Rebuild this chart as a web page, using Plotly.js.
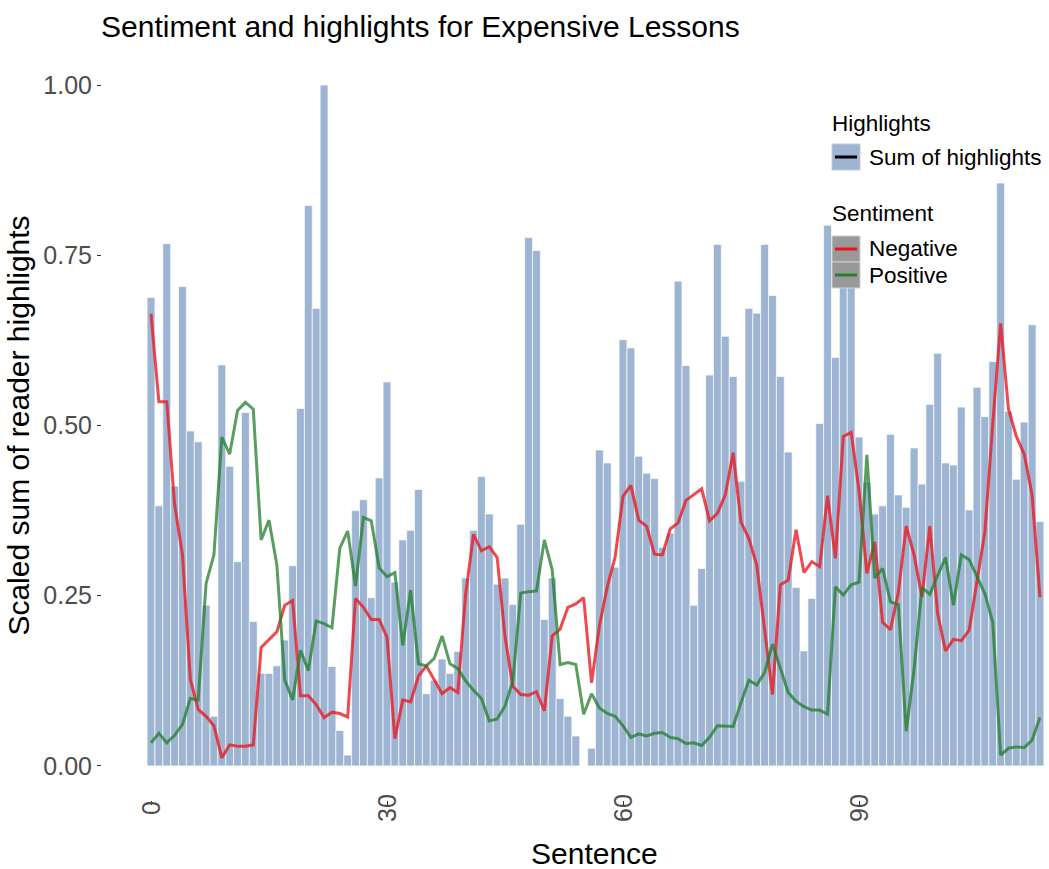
<!DOCTYPE html>
<html>
<head>
<meta charset="utf-8">
<script src="https://cdn.plot.ly/plotly-3.0.1.min.js"></script>
<style>html,body{margin:0;padding:0;background:#fff;}#chart{width:1049px;height:869px;}</style>
</head>
<body>
<div id="chart"></div>
<script>
// ---- data ----
const sentences = Array.from({length: 114}, (_, i) => i);

const highlights = [
  0.688,0.382,0.767,0.411,0.704,0.492,0.476,0.236,0.073,0.589,
  0.440,0.300,0.519,0.212,0.136,0.136,0.147,0.185,0.294,0.525,
  0.823,0.672,1.000,0.146,0.052,0.016,0.375,0.391,0.247,0.423,
  0.564,0.270,0.332,0.346,0.406,0.106,0.126,0.157,0.136,0.168,
  0.276,0.346,0.425,0.370,0.267,0.276,0.237,0.355,0.776,0.757,
  0.215,0.276,0.099,0.073,0.044,0.000,0.026,0.464,0.445,0.292,
  0.626,0.614,0.455,0.430,0.422,0.321,0.342,0.712,0.588,0.236,
  0.290,0.574,0.766,0.631,0.572,0.418,0.672,0.665,0.766,0.691,
  0.572,0.461,0.262,0.169,0.246,0.503,0.794,0.600,0.740,0.750,
  0.483,0.417,0.370,0.382,0.487,0.398,0.380,0.467,0.414,0.531,
  0.606,0.445,0.442,0.527,0.376,0.556,0.513,0.594,0.856,0.521,
  0.421,0.505,0.648,0.359
];

const negative = [
  0.664,0.535,0.535,0.384,0.310,0.127,0.083,0.073,0.059,0.012,
  0.031,0.029,0.029,0.031,0.174,0.186,0.197,0.236,0.243,0.103,
  0.103,0.090,0.071,0.079,0.077,0.072,0.246,0.233,0.215,0.215,
  0.189,0.040,0.097,0.094,0.132,0.147,0.127,0.106,0.115,0.108,
  0.253,0.340,0.316,0.322,0.306,0.190,0.117,0.105,0.104,0.109,
  0.081,0.191,0.201,0.233,0.238,0.247,0.122,0.206,0.263,0.307,
  0.396,0.412,0.361,0.352,0.311,0.310,0.348,0.357,0.390,0.398,
  0.407,0.360,0.371,0.398,0.460,0.358,0.334,0.295,0.201,0.105,
  0.266,0.273,0.347,0.284,0.300,0.293,0.397,0.305,0.484,0.490,
  0.404,0.283,0.329,0.211,0.200,0.255,0.352,0.310,0.248,0.352,
  0.223,0.169,0.186,0.184,0.199,0.270,0.344,0.502,0.650,0.524,
  0.484,0.458,0.398,0.248
];

const positive = [
  0.034,0.048,0.034,0.045,0.061,0.099,0.097,0.268,0.310,0.483,
  0.458,0.522,0.534,0.524,0.332,0.361,0.295,0.126,0.097,0.170,
  0.140,0.213,0.209,0.203,0.320,0.345,0.264,0.365,0.360,0.291,
  0.278,0.284,0.177,0.258,0.150,0.147,0.158,0.191,0.150,0.143,
  0.125,0.111,0.099,0.066,0.069,0.088,0.125,0.254,0.256,0.257,
  0.332,0.288,0.149,0.152,0.149,0.076,0.106,0.085,0.077,0.073,
  0.059,0.042,0.047,0.044,0.048,0.049,0.042,0.040,0.033,0.034,
  0.030,0.042,0.059,0.058,0.058,0.093,0.126,0.119,0.137,0.179,
  0.142,0.108,0.095,0.087,0.082,0.082,0.076,0.263,0.251,0.266,
  0.270,0.457,0.276,0.290,0.241,0.237,0.051,0.142,0.262,0.252,
  0.280,0.306,0.236,0.310,0.303,0.279,0.253,0.211,0.016,0.026,
  0.028,0.027,0.038,0.071
];

const xTickVals = [0, 30, 60, 90];
const xTickText = ["0", "30", "60", "90"];
const yTickVals = [0, 0.25, 0.5, 0.75, 1];
const yTickText = ["0.00", "0.25", "0.50", "0.75", "1.00"];

// ---- styling ----
const W = 1049, H = 869;
const M = {l: 102, r: 0, t: 51, b: 69};
const PW = W - M.l - M.r, PH = H - M.t - M.b;
const px = v => (v - M.l) / PW;          // pixel -> paper x
const py = v => (H - M.b - v) / PH;      // pixel -> paper y

const FONT = "Liberation Sans, Arial, Helvetica, sans-serif";
const BAR = "#9DB5D2";
const RED = "rgba(234,28,34,0.8)";
const GREEN = "rgba(34,125,40,0.75)";

const traces = [
  {type: "bar", x: sentences, y: highlights, name: "Sum of highlights",
   marker: {color: BAR, line: {color: "rgba(255,255,255,0.85)", width: 0.8}},
   showlegend: false, hoverinfo: "x+y"},
  {type: "scatter", mode: "lines", x: sentences, y: negative, name: "Negative",
   line: {color: RED, width: 3}, showlegend: false},
  {type: "scatter", mode: "lines", x: sentences, y: positive, name: "Positive",
   line: {color: GREEN, width: 3}, showlegend: false}
];

// manual legend (ggplot-style keys)
const shapes = [
  {type: "rect", xref: "paper", yref: "paper", x0: px(832), x1: px(860), y0: py(170), y1: py(144),
   fillcolor: BAR, line: {color: "#c8c8c8", width: 1}, layer: "above"},
  {type: "line", xref: "paper", yref: "paper", x0: px(835), x1: px(857), y0: py(157), y1: py(157),
   line: {color: "#000", width: 3}, layer: "above"},
  {type: "rect", xref: "paper", yref: "paper", x0: px(832), x1: px(860), y0: py(262), y1: py(236),
   fillcolor: "#999999", line: {color: "#d0d0d0", width: 1}, layer: "above"},
  {type: "line", xref: "paper", yref: "paper", x0: px(835), x1: px(857), y0: py(249), y1: py(249),
   line: {color: "#e8141c", width: 3}, layer: "above"},
  {type: "rect", xref: "paper", yref: "paper", x0: px(832), x1: px(860), y0: py(288), y1: py(262),
   fillcolor: "#999999", line: {color: "#d0d0d0", width: 1}, layer: "above"},
  {type: "line", xref: "paper", yref: "paper", x0: px(835), x1: px(857), y0: py(275), y1: py(275),
   line: {color: "#2a7d2e", width: 3}, layer: "above"}
];

const lt = (text, x, y, size) => ({text, xref: "paper", yref: "paper", x: px(x), y: py(y),
  xanchor: "left", yanchor: "middle", showarrow: false, font: {family: FONT, size, color: "#000"}});

const annotations = [
  lt("Highlights", 830, 123, 22.5),
  lt("Sum of highlights", 867, 157, 22.5),
  lt("Sentiment", 830, 214, 22.5),
  lt("Negative", 867, 249, 22.5),
  lt("Positive", 867, 275, 22.5),
  {text: "Sentence", xref: "paper", yref: "paper", x: px(594), y: py(853),
   xanchor: "center", yanchor: "middle", showarrow: false,
   font: {family: FONT, size: 30, color: "#000"}}
];
// rotated x tick labels, centred under each tick (ggplot style)
xTickVals.forEach((v, k) => annotations.push({
  text: xTickText[k], xref: "x", yref: "paper", x: v, y: py(808),
  xanchor: "center", yanchor: "middle", textangle: -90, showarrow: false,
  font: {family: FONT, size: 25, color: "#4d4d4d"}
}));

const layout = {
  width: W, height: H,
  margin: M,
  paper_bgcolor: "#fff", plot_bgcolor: "#fff",
  font: {family: FONT},
  title: {text: "Sentiment and highlights for Expensive Lessons",
          x: 101 / W, xref: "container", xanchor: "left",
          y: 1 - 26 / H, yref: "container", yanchor: "middle",
          font: {family: FONT, size: 30, color: "#000"}},
  bargap: 0,
  xaxis: {range: [-6.23, 114.15], tickvals: xTickVals, showticklabels: false,
          ticks: "outside", ticklen: 4, tickcolor: "#333", tickwidth: 1,
          showgrid: false, zeroline: false, showline: false},
  yaxis: {range: [-0.05, 1.05], tickvals: yTickVals, ticktext: yTickText,
          ticks: "outside", ticklen: 4, tickcolor: "#333", tickwidth: 1,
          tickfont: {family: FONT, size: 25, color: "#4d4d4d"},
          showgrid: false, zeroline: false, showline: false,
          title: {text: "Scaled sum of reader highlights", standoff: 4,
                  font: {family: FONT, size: 30, color: "#000"}}},
  shapes, annotations
};

Plotly.newPlot("chart", traces, layout, {displayModeBar: false, staticPlot: true});
</script>
</body>
</html>
